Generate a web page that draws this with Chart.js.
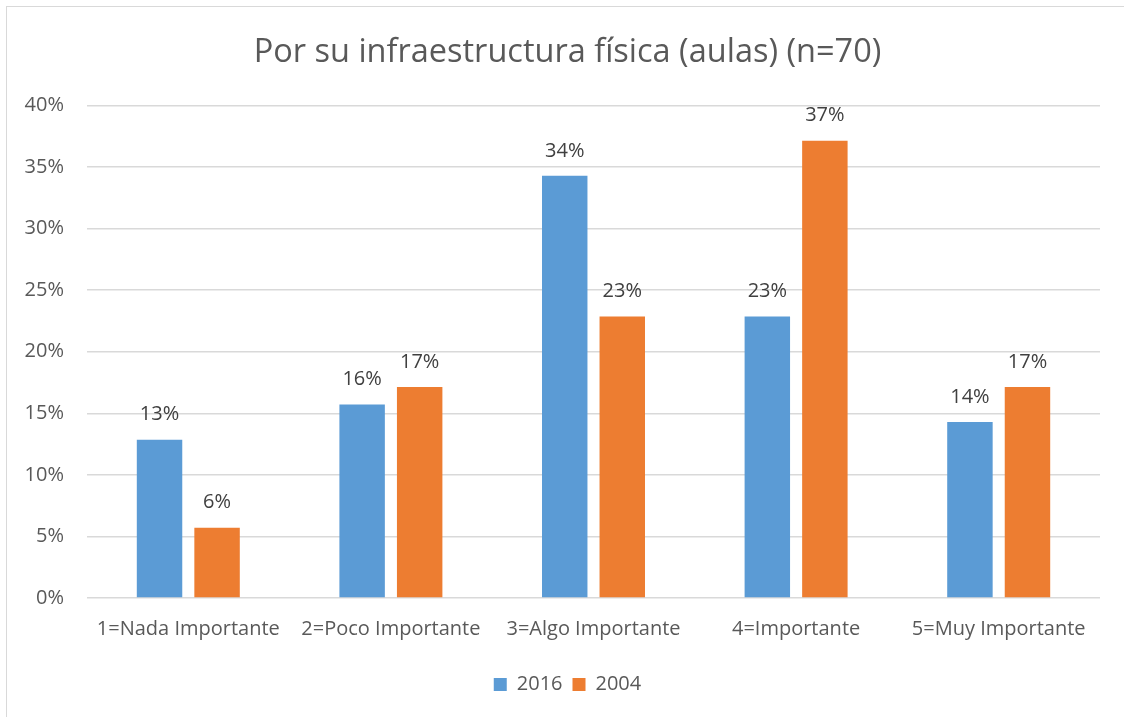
<!DOCTYPE html>
<html>
<head>
<meta charset="utf-8">
<script src="https://cdn.jsdelivr.net/npm/chart.js@4"></script>
<style>
html,body{margin:0;padding:0;background:#fff;}
#wrap{position:relative;width:1124px;height:717px;overflow:hidden;}
#frame{position:absolute;left:6px;top:6px;width:1200px;height:800px;border-left:1.5px solid #d9d9d9;border-top:1.5px solid #d9d9d9;}
canvas{position:absolute;left:0;top:0;}
</style>
</head>
<body>
<div id="wrap"><div id="frame"></div><canvas id="c" width="1124" height="717"></canvas></div>
<script>
const categories = ["1=Nada Importante","2=Poco Importante","3=Algo Importante","4=Importante","5=Muy Importante"];
const series2016 = [12.86, 15.71, 34.29, 22.86, 14.29];
const series2004 = [5.71, 17.14, 22.86, 37.14, 17.14];
const yTicks = [0,5,10,15,20,25,30,35,40];
const titleText = "Por su infraestructura física (aulas) (n=70)";

const FONT = "'Open Sans', Lato, sans-serif";
const GREY = "#595959";

const dataLabels = {
  id: 'dataLabels',
  afterDatasetsDraw(chart) {
    const ctx = chart.ctx;
    ctx.save();
    ctx.font = "20px " + FONT;
    ctx.fillStyle = "#404040";
    ctx.textAlign = "center";
    ctx.textBaseline = "middle";
    chart.data.datasets.forEach((ds, i) => {
      const meta = chart.getDatasetMeta(i);
      meta.data.forEach((el, j) => {
        ctx.fillText(Math.round(ds.data[j]) + "%", el.x, el.y - 25);
      });
    });
    ctx.restore();
  }
};

new Chart(document.getElementById('c'), {
  type: 'bar',
  data: {
    labels: categories,
    datasets: [
      {label: "2016", data: series2016, backgroundColor: "#5B9BD5", categoryPercentage: 0.568, barPercentage: 0.79},
      {label: "2004", data: series2004, backgroundColor: "#ED7D31", categoryPercentage: 0.568, barPercentage: 0.79}
    ]
  },
  options: {
    responsive: false,
    animation: false,
    layout: {padding: {top: 0, right: 24, bottom: 12.5, left: 35}},
    plugins: {
      title: {display: true, text: titleText, color: GREY, font: {family: FONT, size: 32.5, weight: 'normal'}, padding: {top: 33.4, bottom: 33.1}},
      legend: {position: 'bottom', labels: {boxWidth: 13, boxHeight: 13, color: GREY, padding: 10, font: {family: FONT, size: 20}}},
      tooltip: {enabled: false}
    },
    scales: {
      x: {
        grid: {display: false},
        border: {display: false},
        ticks: {color: GREY, font: {family: FONT, size: 20}, padding: 11.5, maxRotation: 0, autoSkip: false},
        afterFit(s) { s.height = 66.5; }
      },
      y: {
        min: 0, max: 40,
        afterBuildTicks(s) { s.ticks = yTicks.map(v => ({value: v})); },
        grid: {color: "#D9D9D9", lineWidth: 1.5, drawTicks: false},
        border: {display: false},
        ticks: {color: GREY, font: {family: FONT, size: 20}, padding: 23, callback: v => v + "%"},
        afterFit(s) { s.width = 52; s._computeLabelArea = () => undefined; }
      }
    }
  },
  plugins: [dataLabels]
});
</script>
</body>
</html>
